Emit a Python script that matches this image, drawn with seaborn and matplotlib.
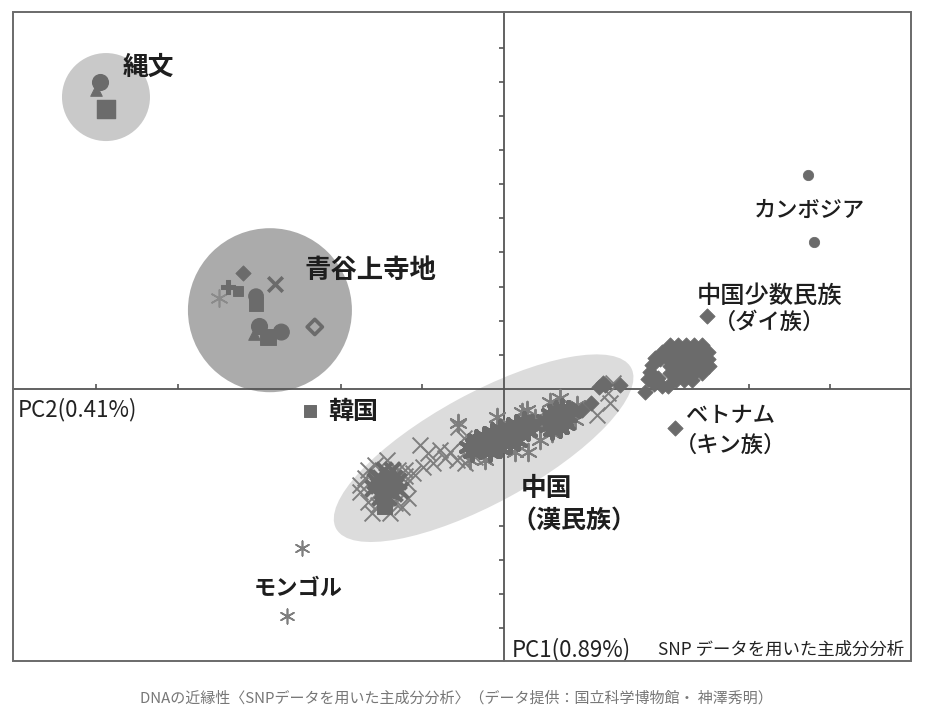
import matplotlib
matplotlib.use("Agg")
import matplotlib.pyplot as plt
from matplotlib.patches import Ellipse, Rectangle
from matplotlib.transforms import ScaledTranslation
import seaborn as sns

sns.set_style("white")
plt.rcParams['font.family'] = ['Noto Sans CJK JP', 'DejaVu Sans']

# ---- data (PC1 / PC2 scores, one unit = one tick) ----
jomon_head_x = [-4.95, -3.01]
jomon_head_y = [8.99, 1.84]
jomon_sq_x = [-4.88]
jomon_sq_y = [8.20]

# Aoya-Kamijichi individuals
aoya_dia_x, aoya_dia_y = [-3.20], [3.40]
aoya_x_x, aoya_x_y = [-2.81], [3.07]
aoya_ast_x, aoya_ast_y = [-3.50], [2.66]
aoya_plus_x, aoya_plus_y = [-3.39], [2.99]
aoya_sq_x = [-3.26, -3.04, -2.89]
aoya_sq_y = [2.87, 2.49, 1.52]
aoya_circ_x = [-3.04, -2.73]
aoya_circ_y = [2.72, 1.67]
aoya_open_x, aoya_open_y = [-2.32], [1.82]

korea_x = [-2.38, -1.47]
korea_y = [-0.64, -3.43]

mongol_x = [-2.48, -2.66]
mongol_y = [-4.66, -6.65]

cambodia_x = [3.73, 3.80]
cambodia_y = [6.27, 4.30]

# Han Chinese, dense core of the lower-left group (x markers)
han_core_x = [-1.52, -1.43, -1.35, -1.54, -1.45, -1.34, -1.50, -1.40, -1.58, -1.30,
              -1.47, -1.37, -1.61, -1.28, -1.42, -1.52,
              -1.48, -1.41, -1.56, -1.35, -1.45]
han_core_y = [-2.61, -2.55, -2.61, -2.81, -2.78, -2.84, -2.99, -2.99, -2.69, -2.69,
              -2.37, -2.37, -2.90, -2.96, -3.16, -3.16,
              -2.72, -2.84, -2.58, -3.05, -2.93]

# Han Chinese, scattered (x markers)
han_x_x = [-1.77, -1.67, -1.43, -1.30, -1.19, -1.18, -1.25, -1.40, -1.62, -1.67,
           -1.77, -1.58, -1.21, -1.34, -1.70, -1.54,
           -1.21, -1.12, -1.03, -0.99, -0.93, -0.87, -0.78, -0.72, -0.58, -0.48,
           -0.36, -0.56, -0.49, -0.66,
           1.14, 1.30, 1.34, 1.27]
han_x_y = [-2.81, -2.37, -2.08, -2.37, -2.75, -3.19, -3.46, -3.63, -3.63, -3.31,
           -3.02, -2.23, -2.55, -3.34, -2.61, -3.40,
           -2.37, -2.46, -1.64, -2.28, -1.87, -2.17, -1.79, -2.02, -2.08, -2.17,
           -1.99, -1.11, -1.44, -1.85,
           -0.76, -0.41, 0.18, -0.12]

# Han Chinese, dense central and right groups (asterisk markers)
han_ast_core_x = [-0.44, -0.37, -0.29, -0.22, -0.15, -0.07, 0.00, 0.07, 0.15, 0.22,
                  0.29, 0.34, -0.39, -0.29, -0.20, -0.10, 0.00, 0.10, 0.20, 0.29,
                  -0.34, -0.25, -0.15, -0.05, 0.05, 0.15, 0.25, -0.17, -0.05, 0.07, 0.17,
                  -0.27, -0.12, 0.02, 0.12, 0.27, -0.32, -0.02,
                  0.50, 0.56, 0.64, 0.71, 0.78, 0.54, 0.63, 0.71, 0.78, 0.83, 0.59,
                  0.69, 0.76, 0.66, 0.74, 0.59]
han_ast_core_y = [-1.70, -1.61, -1.55, -1.49, -1.41, -1.35, -1.29, -1.23, -1.17, -1.11,
                  -1.05, -1.02, -1.84, -1.76, -1.67, -1.58, -1.49, -1.41, -1.32, -1.23,
                  -1.46, -1.38, -1.26, -1.17, -1.11, -1.02, -0.94, -1.84, -1.73, -1.61, -1.52,
                  -1.67, -1.52, -1.38, -1.29, -1.14, -1.61, -1.43,
                  -0.91, -0.73, -0.61, -0.56, -0.61, -1.08, -0.97, -0.85, -0.79, -0.67, -1.20,
                  -1.14, -1.02, -0.73, -0.91, -0.91]

# Han Chinese, scattered (asterisk markers)
han_ast_x = [-0.56, -0.09, 0.22, 0.28, 0.29, -0.23, 0.44, -0.42, 0.13, 0.38,
             0.56, 0.89, 0.59, 0.44, 0.87, 0.69]
han_ast_y = [-1.00, -0.82, -0.67, -0.61, -1.84, -2.08, -1.49, -2.08, -1.84, -0.85,
             -0.38, -0.47, -1.29, -1.14, -0.91, -0.26]

# Dai minority + Vietnam (Kinh) diamonds
dai_x = [2.03, 2.13, 2.23, 2.33, 2.43,
         1.94, 2.01, 2.11, 2.21, 2.30, 2.40, 2.50,
         1.91, 2.01, 2.11, 2.21, 2.30, 2.40, 2.50,
         2.03, 2.13, 2.23, 2.33, 2.43, 2.51,
         2.03, 2.13, 2.23, 2.33, 2.43,
         2.11, 2.21, 2.30,
         1.85, 1.81, 1.79, 1.77, 1.84, 1.94, 2.01, 1.89, 1.73,
         1.16, 1.21, 1.42, 1.07, 0.96, 1.24,
         2.49, 2.10]
dai_y = [1.29, 1.29, 1.29, 1.29, 1.29,
         1.08, 1.08, 1.08, 1.08, 1.08, 1.08, 1.08,
         0.88, 0.88, 0.88, 0.88, 0.88, 0.88, 0.88,
         0.67, 0.67, 0.67, 0.67, 0.67, 0.67,
         0.47, 0.47, 0.47, 0.47, 0.47,
         0.26, 0.26, 0.26,
         0.91, 0.70, 0.50, 0.29, 0.15, 0.09, 0.09, 0.32, -0.09,
         0.06, 0.18, 0.12, -0.41, -0.62, 0.12,
         2.14, -1.14]

# group shadings: centre (data), width/height in px, angle, colour
groups = [
    ((-4.88, 8.55), 88, 88, 0, '#c9c9c9'),
    ((-2.87, 2.31), 164, 164, 0, '#ababab'),
    ((-0.25, -1.73), 336, 110, 28.6, '#dcdcdc'),
]

labels = [
    ('縄文', -4.68, 9.43, 'left', 18.5, 'bold'),
    ('青谷上寺地', -2.44, 3.46, 'left', 19, 'bold'),
    ('カンボジア', 3.75, 5.24, 'center', 16, 'medium'),
    ('中国少数民族', 3.26, 2.72, 'center', 17.5, 'medium'),
    ('（ダイ族）', 3.26, 1.96, 'center', 16, 'medium'),
    ('ベトナム', 2.78, -0.76, 'center', 16, 'medium'),
    ('（キン族）', 2.78, -1.64, 'center', 16, 'medium'),
    ('中国', 0.21, -2.90, 'left', 18.5, 'bold'),
    ('（漢民族）', 0.86, -3.89, 'center', 18, 'bold'),
    ('韓国', -2.16, -0.67, 'left', 18, 'bold'),
    ('モンゴル', -2.52, -5.83, 'center', 16, 'bold'),
]

MARK = '#6b6b6b'
LINE = '#7e7e7e'
AX = '#555555'

fig = plt.figure(figsize=(9.27, 7.22), dpi=100)
ax = fig.add_axes([13 / 927, 1 - 661 / 722, 898 / 927, 649 / 722])
ax.set_xlim(-6.02, 4.99)
ax.set_ylim(-7.96, 11.04)

for (cx, cy), w, h, ang, col in groups:
    tr = fig.dpi_scale_trans + ScaledTranslation(cx, cy, ax.transData)
    ax.add_patch(Ellipse((0, 0), w / 100, h / 100, angle=ang, transform=tr,
                         facecolor=col, edgecolor='none', zorder=1))

asterisk = (6, 2, 0)
kw = dict(ax=ax, legend=False, zorder=3)

# China cluster
sns.scatterplot(x=han_x_x, y=han_x_y, marker='x', s=130, color=LINE, linewidth=1.4, **kw)
sns.scatterplot(x=han_core_x, y=han_core_y, marker='x', s=130, color=MARK, linewidth=3.0, **kw)
sns.scatterplot(x=han_ast_x, y=han_ast_y, marker=asterisk, s=160, color=LINE,
                linewidth=1.4, **kw)
sns.scatterplot(x=han_ast_core_x, y=han_ast_core_y, marker=asterisk, s=150, color=MARK,
                linewidth=3.0, **kw)
sns.scatterplot(x=dai_x, y=dai_y, marker='D', s=60, color=MARK, edgecolor=MARK, **kw)

# single samples
sns.scatterplot(x=cambodia_x, y=cambodia_y, marker='o', s=55, color=MARK, edgecolor=MARK, **kw)
sns.scatterplot(x=korea_x, y=korea_y, marker='s', s=[70, 120], color=MARK, edgecolor=MARK, **kw)
sns.scatterplot(x=mongol_x, y=mongol_y, marker=asterisk, s=110, color=LINE, linewidth=1.2, **kw)

# Jomon / Aoya
sns.scatterplot(x=jomon_head_x, y=jomon_head_y, marker='o', s=130, color=MARK, edgecolor=MARK, **kw)
sns.scatterplot(x=[v - 0.05 for v in jomon_head_x], y=[v - 0.22 for v in jomon_head_y],
                marker='^', s=70, color=MARK, edgecolor=MARK, **kw)
sns.scatterplot(x=jomon_sq_x, y=jomon_sq_y, marker='s', s=170, color=MARK, edgecolor=MARK, **kw)
sns.scatterplot(x=aoya_dia_x, y=aoya_dia_y, marker='D', s=60, color=MARK, edgecolor=MARK, **kw)
sns.scatterplot(x=aoya_x_x, y=aoya_x_y, marker='x', s=110, color=MARK, linewidth=2.6, **kw)
sns.scatterplot(x=aoya_ast_x, y=aoya_ast_y, marker=asterisk, s=150, color='#8a8a8a',
                linewidth=1.2, **kw)
sns.scatterplot(x=aoya_plus_x, y=aoya_plus_y, marker='P', s=90, color=MARK, edgecolor=MARK, **kw)
sns.scatterplot(x=aoya_sq_x, y=aoya_sq_y, marker='s', s=[55, 110, 130], color=MARK,
                edgecolor=MARK, **kw)
sns.scatterplot(x=aoya_circ_x, y=aoya_circ_y, marker='o', s=[110, 130], color=MARK,
                edgecolor=MARK, **kw)
sns.scatterplot(x=aoya_open_x, y=aoya_open_y, marker='D', s=60, facecolor='none',
                edgecolor=MARK, linewidth=2.6, **kw)

# cross-hair axes with small ticks, plus outer frame
for side in ['top', 'right']:
    ax.spines[side].set_visible(False)
for side in ['left', 'bottom']:
    ax.spines[side].set_position(('data', 0))
    ax.spines[side].set_color(AX)
    ax.spines[side].set_linewidth(1.3)
    ax.spines[side].set_zorder(2)
ax.set_xticks(range(-5, 5))
ax.set_yticks(range(-7, 11))
ax.tick_params(axis='x', bottom=True, top=False, direction='in', length=3.5, width=1.2,
               color=AX, labelbottom=False)
ax.tick_params(axis='y', left=True, right=False, direction='out', length=3.5, width=1.2,
               color=AX, labelleft=False)
ax.add_patch(Rectangle((0, 0), 1, 1, transform=ax.transAxes, fill=False,
                       edgecolor='#6a6a6a', linewidth=1.4, clip_on=False, zorder=5))

for txt, x, y, ha, size, weight in labels:
    ax.text(x, y, txt, ha=ha, va='center', fontsize=size, fontweight=weight,
            color='#1e1e1e', zorder=6)

narrow = ['Liberation Sans Narrow', 'Noto Sans CJK JP']
ax.text(-5.96, -0.59, 'PC2(0.41%)', ha='left', va='center', fontsize=16,
        family=narrow, color='#222222')
ax.text(0.10, -7.64, 'PC1(0.89%)', ha='left', va='center', fontsize=16,
        family=narrow, color='#222222')
ax.text(4.91, -7.64, 'SNP データを用いた主成分分析', ha='right', va='center',
        fontsize=12.5, family=narrow, color='#222222')

fig.text(456 / 927, 1 - 698 / 722,
         'DNAの近縁性〈SNPデータを用いた主成分分析〉（データ提供：国立科学博物館・ 神澤秀明）',
         ha='center', va='center', fontsize=10.8, color='#777777')

fig.savefig('out.png', dpi=100, facecolor='white')
